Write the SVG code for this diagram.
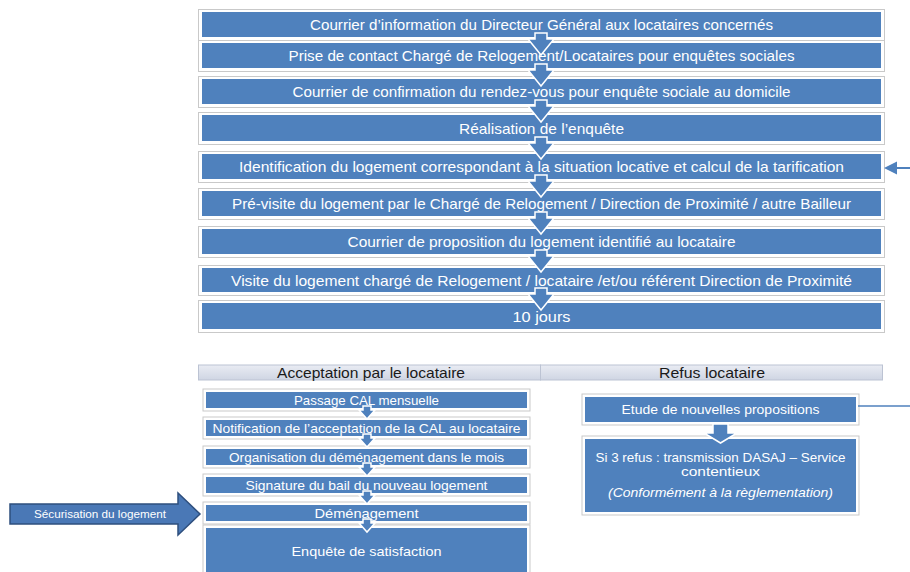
<svg xmlns="http://www.w3.org/2000/svg" width="910" height="572" viewBox="0 0 910 572">
<defs>
<style>
.box{fill:#4F81BD}
.frame{fill:#fff;stroke:#c9c9c9;stroke-width:1}
.t{font-family:"Liberation Sans",Arial,sans-serif;fill:#fff;text-anchor:middle}
.t14{font-size:15px}
.t13{font-size:13.5px}
.hd{font-family:"Liberation Sans",Arial,sans-serif;fill:#1a1a1a;text-anchor:middle;font-size:14.5px}
.arr{fill:#4F81BD;stroke:#fff;stroke-width:1.5}
.conn{stroke:#4F81BD;stroke-width:2;fill:none}
</style>
<linearGradient id="hg" x1="0" y1="0" x2="0" y2="1">
<stop offset="0" stop-color="#e9ecf3"/>
<stop offset="1" stop-color="#cfd5e3"/>
</linearGradient>
<path id="bigArr" d="M-6,-6 L6,-6 L6,0 L13,0 L0,16 L-13,0 L-6,0 Z"/>
<path id="smArr" d="M-4,-4 L4,-4 L4,0 L8,0 L0,9 L-8,0 L-4,0 Z"/>
</defs>
<rect width="910" height="572" fill="#fff"/>

<g id="n1"><rect class="frame" x="198.5" y="9.5" width="686" height="31"/><rect class="box" x="202" y="12" width="679" height="25"/><text class="t t14" x="541.5" y="30" textLength="463" lengthAdjust="spacingAndGlyphs">Courrier d’information du Directeur Général aux locataires concernés</text></g>
<g id="n2"><rect class="frame" x="198.5" y="40.5" width="686" height="31"/><rect class="box" x="202" y="43" width="679" height="25"/><text class="t t14" x="541.5" y="61" textLength="506" lengthAdjust="spacingAndGlyphs">Prise de contact Chargé de Relogement/Locataires pour enquêtes sociales</text></g>
<g id="n3"><rect class="frame" x="198.5" y="76.5" width="686" height="31"/><rect class="box" x="202" y="79" width="679" height="25"/><text class="t t14" x="541.5" y="97" textLength="498" lengthAdjust="spacingAndGlyphs">Courrier de confirmation du rendez-vous pour enquête sociale au domicile</text></g>
<g id="n4"><rect class="frame" x="198.5" y="112.5" width="686" height="32"/><rect class="box" x="202" y="115" width="679" height="26"/><text class="t t14" x="541.5" y="133.5" textLength="165" lengthAdjust="spacingAndGlyphs">Réalisation de l’enquête</text></g>
<g id="n5"><rect class="frame" x="198.5" y="151.5" width="686" height="31"/><rect class="box" x="202" y="154" width="679" height="25"/><text class="t t14" x="541.5" y="172" textLength="605" lengthAdjust="spacingAndGlyphs">Identification du logement correspondant à la situation locative et calcul de la tarification</text></g>
<g id="n6"><rect class="frame" x="198.5" y="188.5" width="686" height="31"/><rect class="box" x="202" y="191" width="679" height="25"/><text class="t t14" x="541.5" y="209" textLength="619" lengthAdjust="spacingAndGlyphs">Pré-visite du logement par le Chargé de Relogement / Direction de Proximité / autre Bailleur</text></g>
<g id="n7"><rect class="frame" x="198.5" y="226.5" width="686" height="31"/><rect class="box" x="202" y="229" width="679" height="25"/><text class="t t14" x="541.5" y="247" textLength="388" lengthAdjust="spacingAndGlyphs">Courrier de proposition du logement identifié au locataire</text></g>
<g id="n8"><rect class="frame" x="198.5" y="265.5" width="686" height="30"/><rect class="box" x="202" y="268" width="679" height="24"/><text class="t t14" x="541.5" y="285.5" textLength="621" lengthAdjust="spacingAndGlyphs">Visite du logement chargé de Relogement / locataire /et/ou référent Direction  de Proximité</text></g>
<g id="n9"><rect class="frame" x="198.5" y="300.5" width="686" height="32"/><rect class="box" x="202" y="303" width="679" height="26"/><text class="t t14" x="541.5" y="321.5" textLength="58" lengthAdjust="spacingAndGlyphs">10 jours</text></g>

<g id="headers">
<rect x="198.5" y="365" width="342" height="15" fill="url(#hg)" stroke="#bcc3d3" stroke-width="1"/>
<rect x="540.5" y="365" width="342" height="15" fill="url(#hg)" stroke="#bcc3d3" stroke-width="1"/>
<text class="hd" x="371" y="377.5" textLength="188" lengthAdjust="spacingAndGlyphs">Acceptation par le locataire</text>
<text class="hd" x="712" y="377.5" textLength="106" lengthAdjust="spacingAndGlyphs">Refus locataire</text>
</g>

<g id="b1"><rect class="frame" x="203" y="389" width="327" height="22"/><rect class="box" x="206" y="392" width="321" height="16"/><text class="t t13" x="366.5" y="404.5" textLength="145" lengthAdjust="spacingAndGlyphs">Passage CAL mensuelle</text></g>
<g id="b2"><rect class="frame" x="203" y="417" width="327" height="22"/><rect class="box" x="206" y="420" width="321" height="16"/><text class="t t13" x="366.5" y="432.5" textLength="308" lengthAdjust="spacingAndGlyphs">Notification de l’acceptation de la CAL au locataire</text></g>
<g id="b3"><rect class="frame" x="203" y="446" width="327" height="22"/><rect class="box" x="206" y="449" width="321" height="16"/><text class="t t13" x="366.5" y="461.5" textLength="275" lengthAdjust="spacingAndGlyphs">Organisation du déménagement dans le mois</text></g>
<g id="b4"><rect class="frame" x="203" y="474" width="327" height="22"/><rect class="box" x="206" y="477" width="321" height="16"/><text class="t t13" x="366.5" y="489.5" textLength="242" lengthAdjust="spacingAndGlyphs">Signature du bail du nouveau logement</text></g>
<g id="b5"><rect class="frame" x="203" y="502" width="327" height="22"/><rect class="box" x="206" y="505" width="321" height="16"/><text class="t t13" x="366.5" y="517.5" textLength="104" lengthAdjust="spacingAndGlyphs">Déménagement</text></g>
<g id="b6"><rect class="frame" x="203" y="525" width="327" height="52"/><rect class="box" x="206" y="528" width="321" height="50"/><text class="t t13" x="366.5" y="555.5" textLength="150" lengthAdjust="spacingAndGlyphs">Enquête de satisfaction</text></g>

<g id="r1"><rect class="frame" x="582" y="394" width="277" height="31"/><rect class="box" x="585" y="397" width="271" height="25"/><text class="t t13" x="720.5" y="414" textLength="198" lengthAdjust="spacingAndGlyphs">Etude de nouvelles propositions</text></g>
<g id="r2"><rect class="frame" x="582" y="436" width="277" height="79"/><rect class="box" x="585" y="439" width="271" height="73"/>
<text class="t t13" x="720.5" y="462" textLength="250" lengthAdjust="spacingAndGlyphs">Si 3 refus : transmission DASAJ – Service</text>
<text class="t t13" x="720.5" y="476" textLength="79" lengthAdjust="spacingAndGlyphs">contentieux</text>
<text class="t t13" x="720.5" y="497" font-style="italic" textLength="225" lengthAdjust="spacingAndGlyphs">(Conformément à la règlementation)</text></g>

<g id="secu"><path d="M10,504 L178,504 L178,493 L200,514 L178,535 L178,524 L10,524 Z" fill="#4A78B6" stroke="#2E4F7E" stroke-width="1.5"/><text class="t" font-size="11" x="100" y="518" textLength="132" lengthAdjust="spacingAndGlyphs">Sécurisation du logement</text></g>

<g id="connectors">
<use href="#bigArr" class="arr" transform="translate(541,39)"/>
<use href="#bigArr" class="arr" transform="translate(541,70)"/>
<use href="#bigArr" class="arr" transform="translate(541,106)"/>
<use href="#bigArr" class="arr" transform="translate(541,143)"/>
<use href="#bigArr" class="arr" transform="translate(541,181)"/>
<use href="#bigArr" class="arr" transform="translate(541,218)"/>
<use href="#bigArr" class="arr" transform="translate(541,256)"/>
<use href="#bigArr" class="arr" transform="translate(541,294)"/>
<use href="#smArr" class="arr" transform="translate(367,410)"/>
<use href="#smArr" class="arr" transform="translate(367,438)"/>
<use href="#smArr" class="arr" transform="translate(367,467)"/>
<use href="#smArr" class="arr" transform="translate(367,495)"/>
<use href="#smArr" class="arr" transform="translate(367,523)"/>
<path d="M713,424 L728,424 L728,433 L737,433 L720.5,443 L704,433 L713,433 Z" fill="#4F81BD" stroke="#fff" stroke-width="1.5"/>
<line class="conn" x1="910" y1="168" x2="894" y2="168"/>
<path d="M884,168 L897,161.5 L897,174.5 Z" fill="#4F81BD"/>
<line x1="858" y1="406" x2="910" y2="406" stroke="#4F81BD" stroke-width="1.5"/>
</g>
</svg>
